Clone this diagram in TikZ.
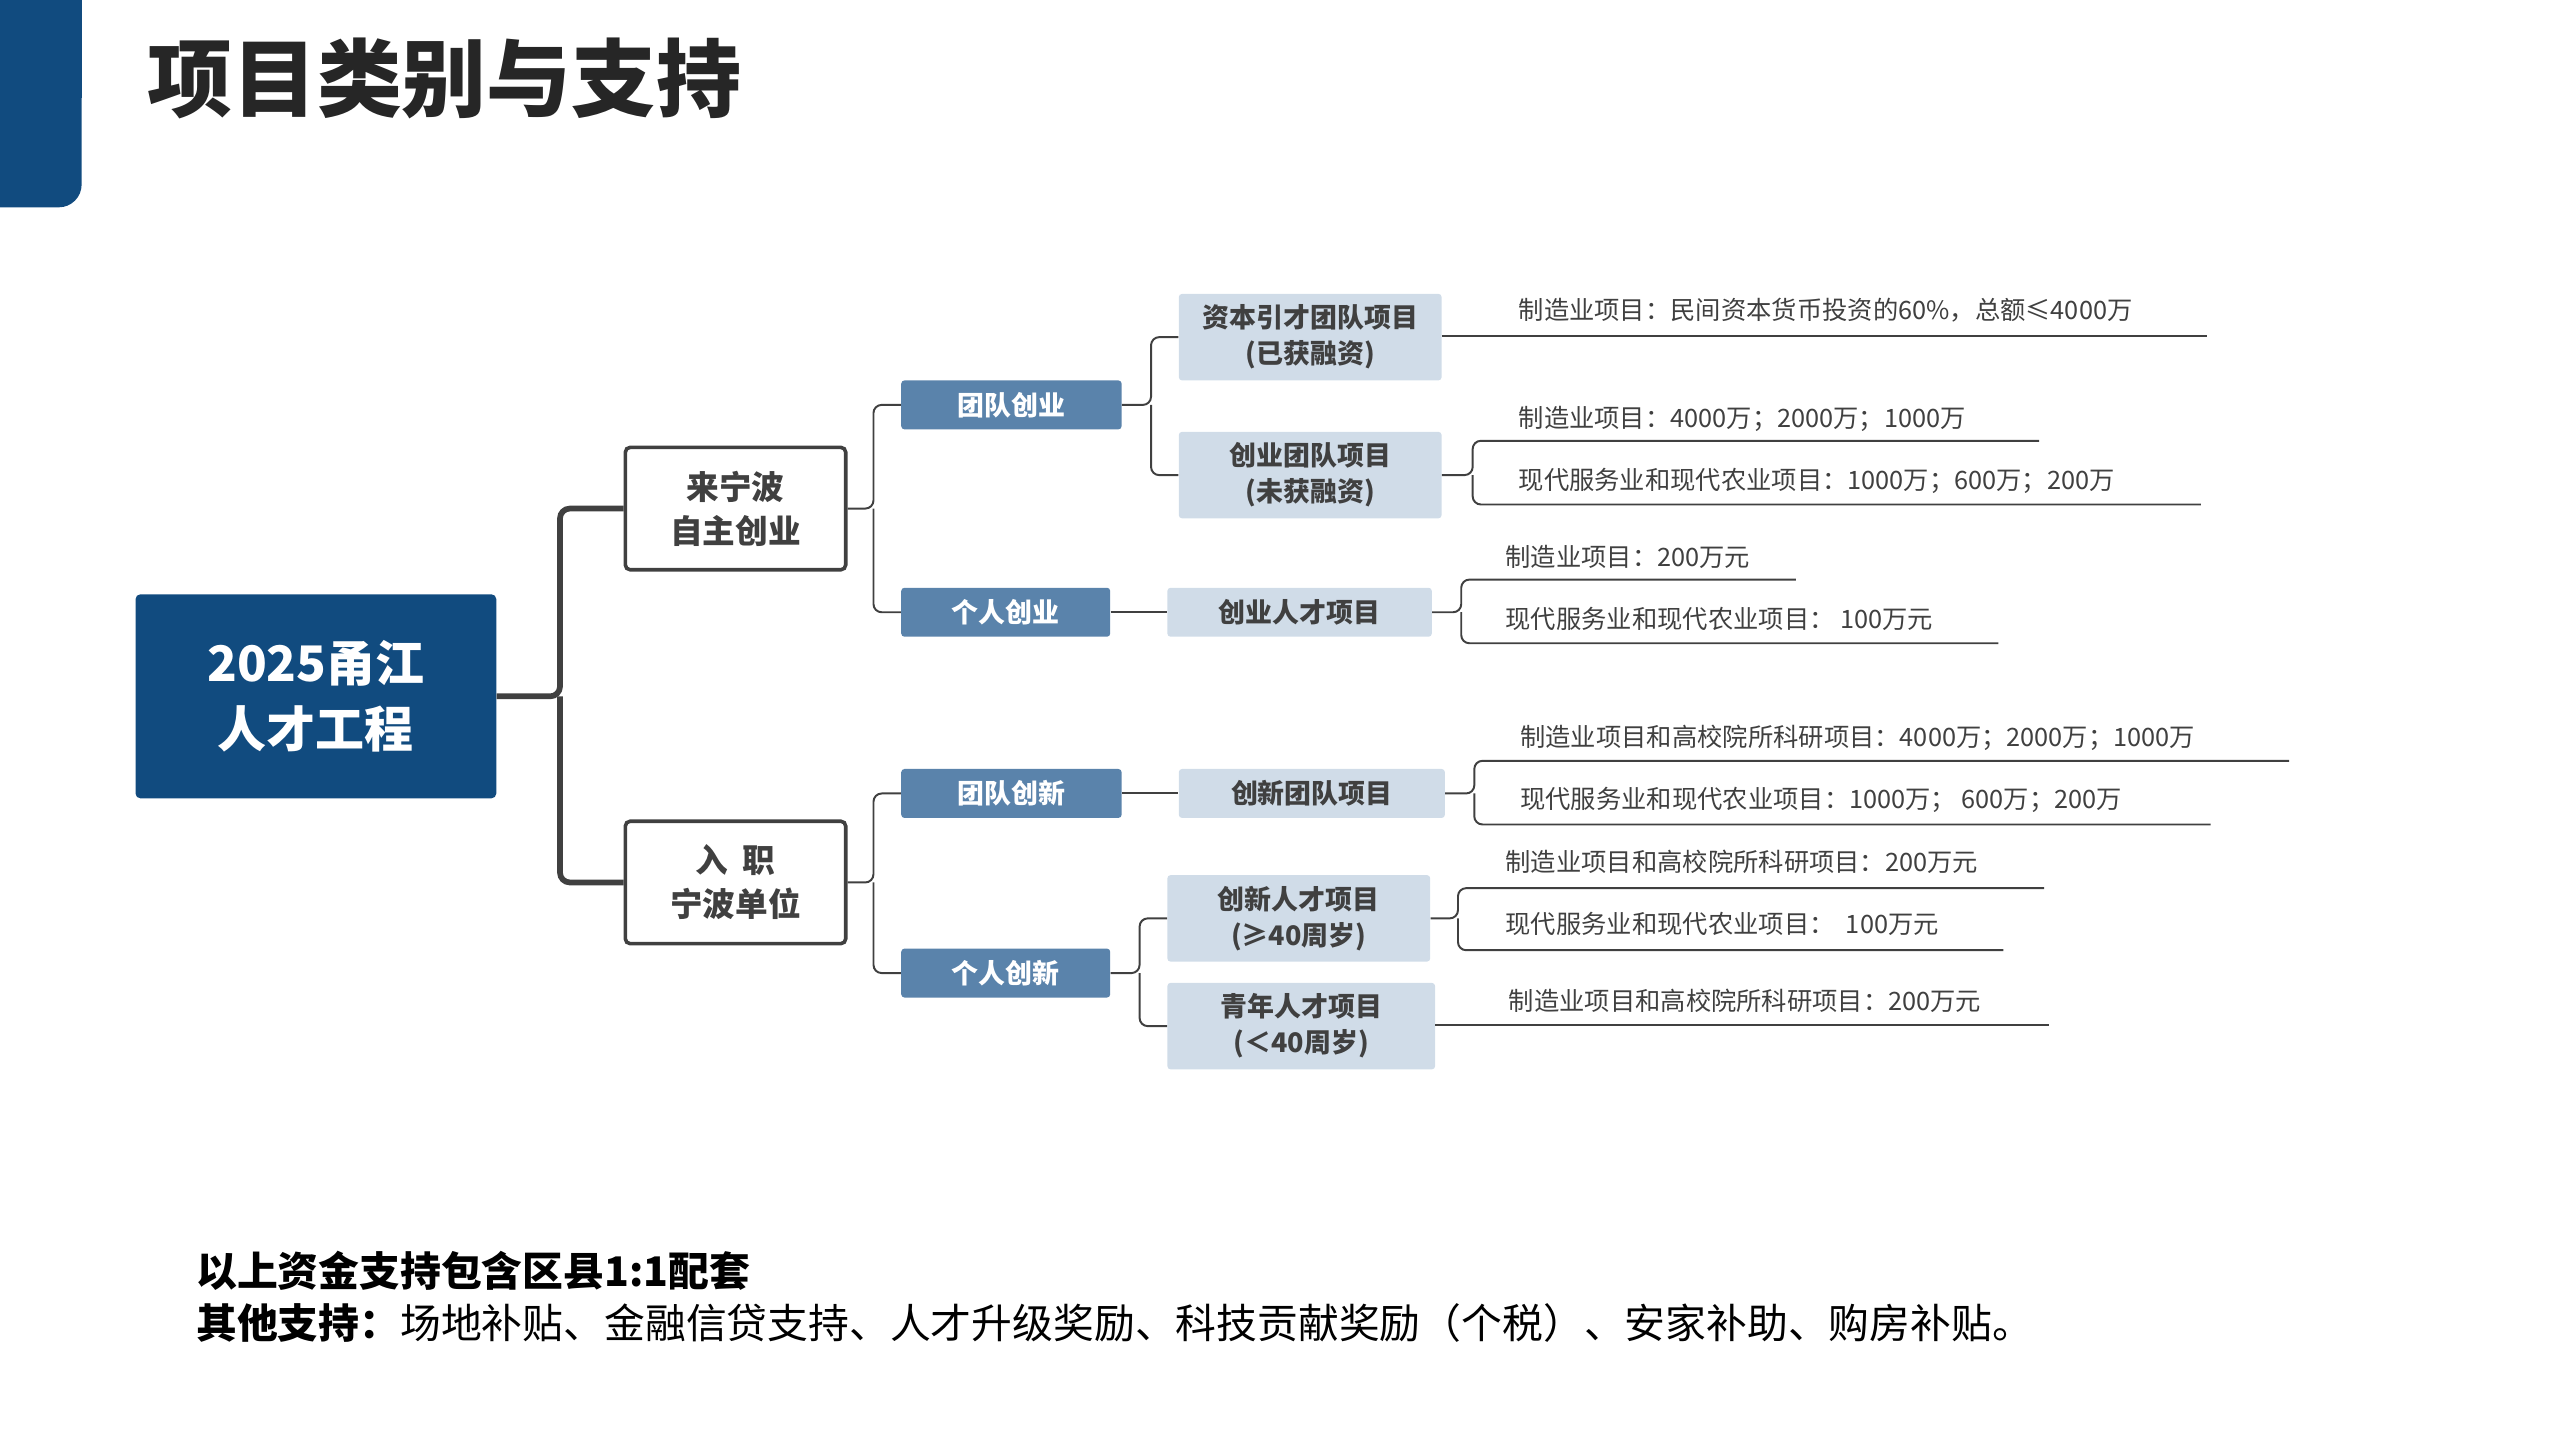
\documentclass[tikz,border=0pt]{standalone}
\usepackage{fontspec}
\setmainfont{Noto Sans CJK SC}
\usetikzlibrary{calc}
\definecolor{navy}{HTML}{114B7F}
\definecolor{midblue}{HTML}{5A83AB}
\definecolor{lightblue}{HTML}{D0DCE8}
\definecolor{dgray}{HTML}{404040}
\begin{document}
\begin{tikzpicture}[x=1pt,y=-1pt,
  fs/.style={font=\fontsize{#1}{#1*1.3}\selectfont},
  root/.style={fill=navy,text=white,rounded corners=3,minimum width=221,minimum height=125,align=center,fs=30,font=\bfseries\fontsize{30}{40}\selectfont},
  lone/.style={draw=dgray,line width=2.2,fill=white,rounded corners=3,minimum width=135,minimum height=75,align=center,text=dgray,font=\bfseries\fontsize{20}{27}\selectfont},
  ltwo/.style={fill=midblue,text=white,rounded corners=2,minimum height=30,align=center,font=\bfseries\fontsize{16.5}{20}\selectfont},
  lthree/.style={fill=lightblue,text=dgray,rounded corners=2,align=center,font=\bfseries\fontsize{16.5}{22}\selectfont},
  leaf/.style={anchor=base west,text=dgray,inner sep=0,font=\fontsize{15.5}{18}\selectfont},
  thick conn/.style={draw=dgray,line width=3.5,rounded corners=6},
  thin conn/.style={draw=dgray,line width=1.2,rounded corners=5}]
\useasboundingbox (0,0) rectangle (1568,882);
% header tab
\fill[navy,rounded corners=14] (-20,-20) rectangle (50,127);
\fill[navy] (-20,-20) rectangle (50,60);
\node[anchor=west,inner sep=0,text=black!85,font=\bfseries\fontsize{52}{60}\selectfont] (title) at (90,48) {项目类别与支持};
% root
\node[root] (root) at (193.5,426.5) {2025甬江\\人才工程};
\node[lone,minimum height=75] (A) at (450.5,311.5) {来宁波\\自主创业};
\node[lone] (B) at (450.5,540.5) {入\ \ 职\\宁波单位};
\draw[thick conn] (root.east) -- (343,426.5) |- (A.west);
\draw[thick conn] (343,426.5) |- (B.west);
% level 2
\node[ltwo,minimum width=135] (A1) at (619.5,248) {团队创业};
\node[ltwo,minimum width=128] (A2) at (616,375) {个人创业};
\node[ltwo,minimum width=135] (B1) at (619.5,486) {团队创新};
\node[ltwo,minimum width=128] (B2) at (616,596) {个人创新};
\draw[thin conn] (A.east) -- (535,311.5) |- (A1.west);
\draw[thin conn] (535,311.5) |- (A2.west);
\draw[thin conn] (B.east) -- (535,540.5) |- (B1.west);
\draw[thin conn] (535,540.5) |- (B2.west);
% level 3
\node[lthree,minimum width=161,minimum height=53] (C1) at (802.5,206.5) {资本引才团队项目\\(已获融资)};
\node[lthree,minimum width=161,minimum height=53] (C2) at (802.5,291) {创业团队项目\\(未获融资)};
\node[lthree,minimum width=162,minimum height=30] (C3) at (796,375) {创业人才项目};
\node[lthree,minimum width=163,minimum height=30] (D1) at (803.5,486) {创新团队项目};
\node[lthree,minimum width=161,minimum height=53] (D2) at (795.5,562.5) {创新人才项目\\(≥40周岁)};
\node[lthree,minimum width=164,minimum height=53] (D3) at (797,628.5) {青年人才项目\\(＜40周岁)};
\draw[thin conn] (A1.east) -- (705,248) |- (C1.west);
\draw[thin conn] (705,248) |- (C2.west);
\draw[thin conn] (A2.east) -- (C3.west);
\draw[thin conn] (B1.east) -- (D1.west);
\draw[thin conn] (B2.east) -- (698,596) |- (D2.west);
\draw[thin conn] (698,596) |- (D3.west);
% leaves
\node[leaf] (t1) at (930,196) {制造业项目：民间资本货币投资的60\%，总额≤4000万};
\coordinate (e1) at (1352,206);
\draw[thin conn] (C1.east |- e1) -- (e1);

\node[leaf] (t2) at (930,262) {制造业项目：4000万；2000万；1000万};
\node[leaf] (t3) at (930,300) {现代服务业和现代农业项目：1000万；600万；200万};
\coordinate (e2) at (1249,270); \coordinate (e3) at (1348,309);
\draw[thin conn] (C2.east) -- (902,291) |- (e2);
\draw[thin conn] (902,291) |- (e3);

\node[leaf] (t4) at (922,347) {制造业项目：200万元};
\node[leaf] (t5) at (922,385) {现代服务业和现代农业项目：\ 100万元};
\coordinate (e4) at (1100,355); \coordinate (e5) at (1224,394);
\draw[thin conn] (C3.east) -- (895,375) |- (e4);
\draw[thin conn] (895,375) |- (e5);

\node[leaf] (t6) at (931,457) {制造业项目和高校院所科研项目：4000万；2000万；1000万};
\node[leaf] (t7) at (931,495) {现代服务业和现代农业项目：1000万；\ 600万；200万};
\coordinate (e6) at (1402,466); \coordinate (e7) at (1354,505);
\draw[thin conn] (D1.east) -- (903,486) |- (e6);
\draw[thin conn] (903,486) |- (e7);

\node[leaf] (t8) at (922,534) {制造业项目和高校院所科研项目：200万元};
\node[leaf] (t9) at (922,572) {现代服务业和现代农业项目：\ \ 100万元};
\coordinate (e8) at (1252,544); \coordinate (e9) at (1227,582);
\draw[thin conn] (D2.east) -- (893,562.5) |- (e8);
\draw[thin conn] (893,562.5) |- (e9);

\node[leaf] (t10) at (924,619) {制造业项目和高校院所科研项目：200万元};
\coordinate (e10) at (1255,628);
\draw[thin conn] (D3.east |- e10) -- (e10);
% bottom text
\node[anchor=base west,inner sep=0,text=black,font=\bfseries\fontsize{25}{30}\selectfont] (n1) at (120,788) {以上资金支持包含区县1:1配套};
\node[anchor=base west,inner sep=0,text=black,font=\fontsize{25}{30}\selectfont] (n2) at (120,820) {\textbf{其他支持：}场地补贴、金融信贷支持、人才升级奖励、科技贡献奖励（个税）、安家补助、购房补贴。};
\end{tikzpicture}
\end{document}
